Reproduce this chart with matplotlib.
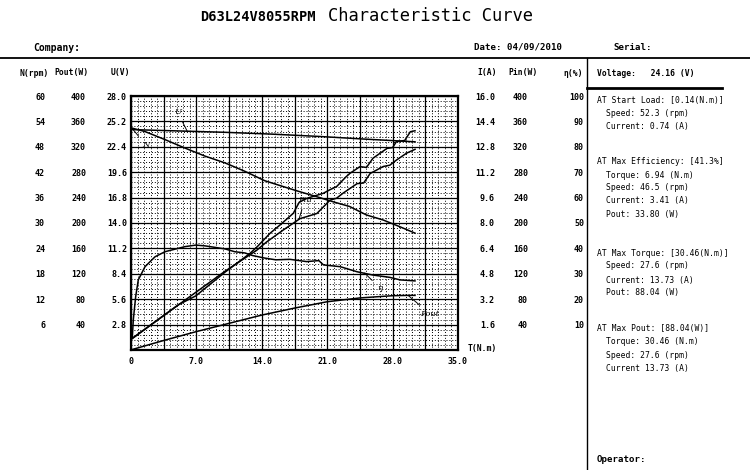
import matplotlib
matplotlib.use('Agg')
import matplotlib.pyplot as plt
from matplotlib.lines import Line2D
from matplotlib.ticker import MultipleLocator
import numpy as np

plt.rcParams['font.family'] = ['DejaVu Sans Mono', 'DejaVu Sans']

# ---------------- data ----------------
T_ticks = [0, 3.5, 7.0, 10.5, 14.0, 17.5, 21.0, 24.5, 28.0, 31.5, 35.0]
T_tick_labels = ['0', '', '7.0', '', '14.0', '', '21.0', '', '28.0', '', '35.0']

U_ticks = [2.8, 5.6, 8.4, 11.2, 14.0, 16.8, 19.6, 22.4, 25.2, 28.0]
N_ticks = [6, 12, 18, 24, 30, 36, 42, 48, 54, 60]
Pout_ticks = [40, 80, 120, 160, 200, 240, 280, 320, 360, 400]
I_ticks = [1.6, 3.2, 4.8, 6.4, 8.0, 9.6, 11.2, 12.8, 14.4, 16.0]
Pin_ticks = [40, 80, 120, 160, 200, 240, 280, 320, 360, 400]
Eta_ticks = [10, 20, 30, 40, 50, 60, 70, 80, 90, 100]

# Voltage U (V)
T_U = [0, 5, 10, 15, 20, 25, 30.4]
U_vals = [24.3, 24.15, 24.0, 23.8, 23.55, 23.25, 22.95]

# Speed N (rpm)
T_N = [0.14, 1.5, 3.64, 5.78, 7.92, 10.06, 12.2, 14.3, 16.3, 17.9, 19.9,
       21.65, 23.4, 25.2, 27.0, 28.8, 30.4]
N_vals = [52.4, 51.6, 49.7, 47.7, 45.8, 44.2, 42.2, 40.0, 38.6, 37.5, 36.2,
          35.0, 33.9, 31.9, 30.7, 29.1, 27.6]

# Efficiency (%)
T_eta = [0.14, 0.25, 0.5, 0.78, 1.5, 2.57, 3.64, 5.78, 6.94, 7.92, 10.06,
         11.1, 12.2, 13.0, 14.3, 15.5, 17.0, 18.8, 20.1, 20.6, 22.4, 24.2,
         25.9, 27.7, 28.8, 30.4]
Eta_vals = [5, 12, 21, 27.6, 32.8, 36.7, 38.7, 40.7, 41.3, 41.0, 39.8,
            38.7, 38.2, 37.2, 36.2, 35.5, 35.7, 34.8, 35.2, 33.5, 32.8, 30.8,
            29.5, 28.6, 27.6, 27.2]

# Output power (W)
T_po = [0.14, 3.5, 7.0, 10.5, 14.0, 17.5, 21.0, 24.5, 28.0, 29.7, 30.4]
Pout_vals = [0.8, 15, 29, 42, 55, 66, 76, 82, 85.5, 86, 86]

# Current I (A)
T_I = [0.14, 5.07, 6.94, 10.06, 12.74, 13.5, 14.88, 16.0, 17.37, 18.0, 18.8,
       20.58, 21.3, 22.0, 23.0, 23.44, 24.5, 25.2, 25.9, 27.4, 28.0, 28.4,
       29.3, 29.9, 30.4]
I_vals = [0.74, 2.85, 3.41, 4.9, 6.09, 6.5, 7.35, 7.9, 8.61, 9.3, 9.55,
          9.87, 10.1, 10.29, 10.9, 11.13, 11.55, 11.5, 12.08, 12.70, 12.75, 13.12,
          13.2, 13.75, 13.81]

# Input power (W)
T_pin = [0.14, 5.07, 10.06, 13.45, 14.5, 16.3, 18.1, 18.8, 19.9, 21.3, 22.0,
         22.7, 24.2, 24.9, 25.6, 27.0, 27.7, 28.4, 29.5, 30.4]
Pin_vals = [18, 71, 124, 157, 170, 189, 207, 210, 215, 236, 239,
            247, 262, 263, 278, 289, 291, 299, 310, 316]

# ---------------- figure ----------------
W, H = 750, 470
fig = plt.figure(figsize=(7.5, 4.7), dpi=100)


def fx(px):
    return px / W


def fy(py):
    return 1 - py / H


L, R, TOP, BOT = 131, 458, 96, 350
ax = fig.add_axes([fx(L), fy(BOT), (R - L) / W, (BOT - TOP) / H])
ax.set_xlim(0, 35)
ax.set_ylim(0, 28)
ax.set_xticks(T_ticks)
ax.set_xticklabels(T_tick_labels, fontsize=6, fontweight='bold')
ax.set_yticks([0] + U_ticks)
ax.set_yticklabels([''] + ['%.1f' % v for v in U_ticks], fontsize=6, fontweight='bold')
ax.xaxis.set_minor_locator(MultipleLocator(0.7))
ax.yaxis.set_minor_locator(MultipleLocator(0.56))
ax.tick_params(which='both', length=0)
ax.tick_params(axis='y', pad=3)
ax.tick_params(axis='x', pad=5)
ax.grid(which='major', color='black', lw=0.9)
ax.grid(which='minor', color='black', lw=0.7, ls=(0, (1, 2)))
ax.set_axisbelow(True)
for s in ax.spines.values():
    s.set_linewidth(1.6)

CURVE_LW = 1.1
ax.plot(T_U, U_vals, color='black', lw=CURVE_LW)


def twin(lim, side, pad_px, ticks, labels):
    t = ax.twinx()
    t.set_ylim(*lim)
    for s in t.spines.values():
        s.set_visible(False)
    if side == 'left':
        t.yaxis.tick_left()
    t.set_yticks(ticks)
    t.set_yticklabels(labels, ha='right', fontsize=6, fontweight='bold')
    t.tick_params(axis='y', length=0, pad=pad_px * 0.72)
    return t


axN = twin((0, 60), 'left', 86, N_ticks, [str(v) for v in N_ticks])
axPo = twin((0, 400), 'left', 45, Pout_ticks, [str(v) for v in Pout_ticks])
axI = twin((0, 16), 'right', 37, I_ticks, ['%.1f' % v for v in I_ticks])
axPin = twin((0, 400), 'right', 70, Pin_ticks, [str(v) for v in Pin_ticks])
axEta = twin((0, 100), 'right', 126, Eta_ticks, [str(v) for v in Eta_ticks])

axN.plot(T_N, N_vals, color='black', lw=CURVE_LW)
axPo.plot(T_po, Pout_vals, color='black', lw=CURVE_LW)
axI.plot(T_I, I_vals, color='black', lw=CURVE_LW)
axPin.plot(T_pin, Pin_vals, color='black', lw=CURVE_LW)
axEta.plot(T_eta, Eta_vals, color='black', lw=CURVE_LW)

# curve labels
lab_kw = dict(fontsize=6, style='italic', fontweight='normal',
              family=['DejaVu Serif'], ha='center', va='center',
              arrowprops=dict(arrowstyle='-', color='black', lw=0.7, shrinkA=2, shrinkB=0))
ax.annotate('U', xy=(6.0, 24.15), xytext=(5.0, 26.2), **lab_kw)
axN.annotate('N', xy=(0.1, 52.4), xytext=(1.6, 48.4), **lab_kw)
axPin.annotate('Pin', xy=(18.0, 207), xytext=(18.6, 236), **lab_kw)
axEta.annotate('η', xy=(25.0, 30.3), xytext=(26.6, 24.6), **lab_kw)
axPo.annotate('Pout', xy=(29.7, 85.5), xytext=(32.0, 57), **lab_kw)

# ---------------- header / frame text ----------------
fig.text(fx(200), fy(17), 'D63L24V8055RPM', fontsize=9.8, fontweight='bold',
         ha='left', va='center')
fig.text(fx(328), fy(16), 'Characteristic Curve', fontsize=12.3,
         ha='left', va='center')

fig.text(fx(33), fy(48), 'Company:', fontsize=7, fontweight='bold', ha='left', va='center')
fig.text(fx(474), fy(47), 'Date: 04/09/2010', fontsize=6.6, fontweight='bold',
         ha='left', va='center')
fig.text(fx(613), fy(47), 'Serial:', fontsize=6.6, fontweight='bold', ha='left', va='center')

fig.add_artist(Line2D([0, 1], [fy(58), fy(58)], transform=fig.transFigure,
                      color='black', lw=1.3))
fig.add_artist(Line2D([fx(587), fx(587)], [fy(58), 0], transform=fig.transFigure,
                      color='black', lw=1.0))
fig.add_artist(Line2D([fx(587), fx(722)], [fy(88), fy(88)], transform=fig.transFigure,
                      color='black', lw=2.0))

hdr = dict(fontsize=5.8, fontweight='bold', va='center', ha='left')
fig.text(fx(19), fy(73), 'N(rpm)', **hdr)
fig.text(fx(54), fy(73), 'Pout(W)', **hdr)
fig.text(fx(111), fy(73), 'U(V)', **hdr)
fig.text(fx(477), fy(73), 'I(A)', **hdr)
fig.text(fx(508), fy(73), 'Pin(W)', **hdr)
fig.text(fx(563), fy(73), 'η(%)', **hdr)
fig.text(fx(468), fy(348), 'T(N.m)', **hdr)

fig.text(fx(597), fy(73), 'Voltage:   24.16 (V)', fontsize=5.8, fontweight='bold',
         ha='left', va='center')

panel = [
    (101, 597, 'AT Start Load: [0.14(N.m)]'),
    (113, 606, 'Speed: 52.3 (rpm)'),
    (127, 606, 'Current: 0.74 (A)'),
    (162, 597, 'AT Max Efficiency: [41.3%]'),
    (175, 606, 'Torque: 6.94 (N.m)'),
    (188, 606, 'Speed: 46.5 (rpm)'),
    (201, 606, 'Current: 3.41 (A)'),
    (214, 606, 'Pout: 33.80 (W)'),
    (253, 597, 'AT Max Torque: [30.46(N.m)]'),
    (266, 606, 'Speed: 27.6 (rpm)'),
    (280, 606, 'Current: 13.73 (A)'),
    (293, 606, 'Pout: 88.04 (W)'),
    (329, 597, 'AT Max Pout: [88.04(W)]'),
    (342, 606, 'Torque: 30.46 (N.m)'),
    (356, 606, 'Speed: 27.6 (rpm)'),
    (369, 606, 'Current 13.73 (A)'),
]
for py, px, s in panel:
    fig.text(fx(px), fy(py), s, fontsize=5.8, ha='left', va='center')

fig.text(fx(597), fy(460), 'Operator:', fontsize=6.6, fontweight='bold',
         ha='left', va='center')

fig.savefig('out.png', dpi=100)
